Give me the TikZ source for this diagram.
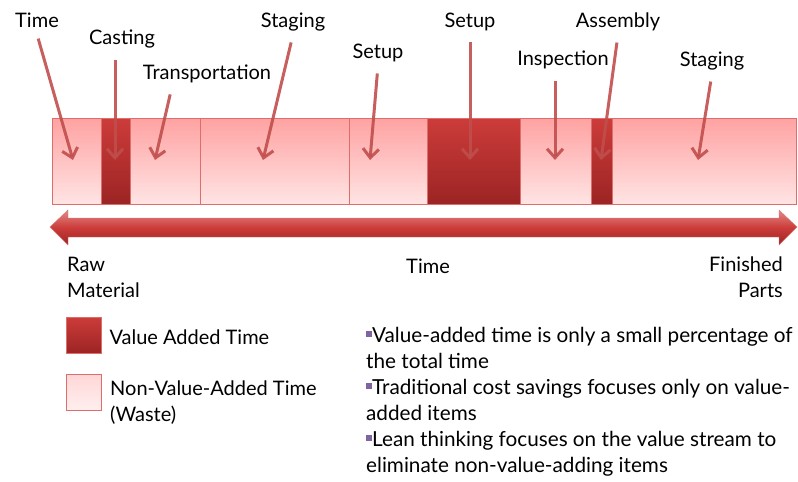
\documentclass[tikz,border=0pt]{standalone}
\usepackage{fontspec}
\setmainfont{Lato}
\usetikzlibrary{arrows.meta}
\definecolor{vared}{RGB}{204,60,58}
\definecolor{vadark}{RGB}{156,36,36}
\definecolor{nvtop}{RGB}{255,162,162}
\definecolor{nvbot}{RGB}{255,228,228}
\definecolor{cellline}{RGB}{222,110,108}
\definecolor{pointred}{RGB}{192,78,76}
\definecolor{bulletpurple}{RGB}{128,100,162}
\tikzset{
  waste/.style={draw=cellline, top color=nvtop, bottom color=nvbot},
  legwaste/.style={draw=cellline, top color=nvbot!80!nvtop, bottom color=nvbot!60!white},
  valueadd/.style={draw=cellline, top color=vared, bottom color=vadark},
  pointer/.style={draw=pointred, opacity=0.9, line width=3pt, shorten <=8pt, -{Straight Barb[length=9pt,width=16pt,line width=3pt]}},
  lbl/.style={font=\fontsize{20}{26}\selectfont},
  txt/.style={font=\fontsize{20}{26}\selectfont, align=left, anchor=north west, inner sep=0pt},
  note/.style={txt, font=\fontsize{20.7}{26}\selectfont}
}
\newcommand{\sqbullet}{\textcolor{bulletpurple}{\rule[5pt]{6pt}{6pt}}}
\begin{document}
\begin{tikzpicture}[x=1pt, y=-1pt]
\useasboundingbox (0,0) rectangle (798,482);
% time line cells
\foreach \a/\b in {52/101, 130/200, 200/349, 349/427, 520/591, 612/796}
  \path[waste] (\a,118) rectangle (\b,204);
\foreach \a/\b in {101/130, 427/520, 591/612}
  \path[valueadd] (\a,118) rectangle (\b,204);

% double arrow for time
\path[top color=vared!60!white, bottom color=vadark, middle color=vared, draw=vared!70!white]
  (50,227) -- (68,210) -- (68,218) -- (779,218) -- (779,210) -- (797,227)
  -- (779,245) -- (779,237) -- (68,237) -- (68,245) -- cycle;

% activity labels
\node[lbl] (time) at (37,20) {Time};
\node[lbl] (casting) at (122,39) {Casting};
\node[lbl] (transp) at (207,74) {Transportation};
\node[lbl] (staga) at (293,22) {Staging};
\node[lbl] (setupa) at (378,53) {Setup};
\node[lbl] (setupb) at (470,22) {Setup};
\node[lbl] (insp) at (563,60) {Inspection};
\node[lbl] (assy) at (618,22) {Assembly};
\node[lbl] (stagb) at (712,61) {Staging};

% pointer ends
\coordinate (ptime) at (73,160);
\coordinate (pcast) at (115,160);
\coordinate (ptransp) at (155,160);
\coordinate (pstaga) at (263,160);
\coordinate (psetupa) at (370,160);
\coordinate (psetupb) at (470,160);
\coordinate (pinsp) at (555,160);
\coordinate (passy) at (601,160);
\coordinate (pstagb) at (698,160);

\draw[pointer] ([xshift=-1pt]time.south) -- (ptime);
\draw[pointer] ([xshift=-7pt]casting.south) -- (pcast);
\draw[pointer] ([xshift=-35pt]transp.south) -- (ptransp);
\draw[pointer] (staga.south) -- (pstaga);
\draw[pointer] (setupa.south) -- (psetupa);
\draw[pointer] (setupb.south) -- (psetupb);
\draw[pointer] ([xshift=-8pt]insp.south) -- (pinsp);
\draw[pointer] (assy.south) -- (passy);
\draw[pointer] (stagb.south) -- (pstagb);

% ends of the time line
\node[txt] (raw) at (67,257) {Raw\\Material};
\node[lbl] (tl) at (428,266) {Time};
\node[txt, align=right, anchor=north east] (fin) at (783,257) {Finished\\Parts};

% legend
\path[valueadd] (66,317) rectangle (101,353);
\node[lbl, anchor=west] (va) at (106,337) {Value Added Time};
\path[legwaste] (66,374) rectangle (101,410);
\node[txt] (nva) at (110,381) {Non-Value-Added Time\\(Waste)};

% notes
\node[note] (n1) at (366,327) {\sqbullet Value-added time is only a small percentage of\\the total time};
\node[note] (n2) at (366,379) {\sqbullet Traditional cost savings focuses only on value-\\added items};
\node[note] (n3) at (366,431) {\sqbullet Lean thinking focuses on the value stream to\\eliminate non-value-adding items};
\end{tikzpicture}
\end{document}
